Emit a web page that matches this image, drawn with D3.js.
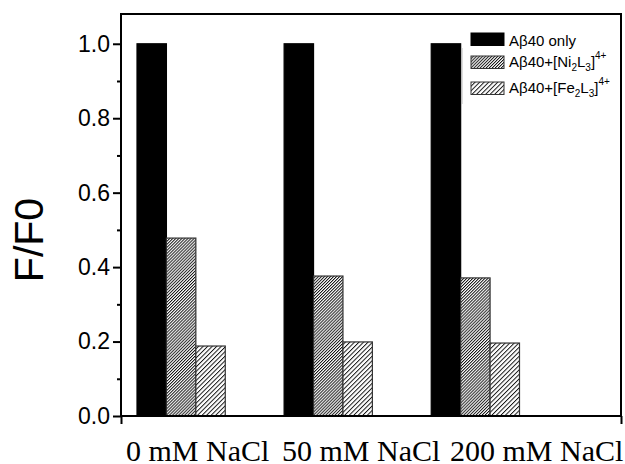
<!DOCTYPE html>
<html>
<head>
<meta charset="utf-8">
<script src="https://cdn.jsdelivr.net/npm/d3@7"></script>
<style>
  body { margin: 0; background: #fff; }
</style>
</head>
<body>
<svg id="chart" width="625" height="464"></svg>
<script>
const categories = ["0 mM NaCl", "50 mM NaCl", "200 mM NaCl"];
const seriesKeys = ["only", "ni", "fe"];
const onlyValues = [1.0, 1.0, 1.0];
const niValues = [0.478, 0.376, 0.371];
const feValues = [0.188, 0.199, 0.196];
const yTicks = [0, 0.2, 0.4, 0.6, 0.8, 1.0];
const yMinorTicks = [0.1, 0.3, 0.5, 0.7, 0.9];

const svg = d3.select("#chart");
const frame = { left: 121, right: 621, top: 14, bottom: 416 };

const yScale = d3.scaleLinear().domain([0, 1.08]).range([frame.bottom, frame.top]);
const xFrame = d3.scaleLinear().domain([0, 1]).range([frame.left, frame.right]);

// groups of three bars
const x0 = d3.scaleBand().domain(categories).range([137, 519.5]).paddingInner(0.4).paddingOuter(0);
const x1 = d3.scaleBand().domain(seriesKeys).range([0, x0.bandwidth()]);

const defs = svg.append("defs");
function hatch(id, w) {
  const p = defs.append("pattern")
    .attr("id", id)
    .attr("patternUnits", "userSpaceOnUse")
    .attr("width", w).attr("height", 10)
    .attr("patternTransform", "rotate(45)");
  p.append("rect").attr("width", w).attr("height", 10).attr("fill", "#fff");
  p.append("line").attr("x1", 0.5).attr("x2", 0.5).attr("y1", 0).attr("y2", 10)
    .attr("stroke", "#000").attr("stroke-width", 0.9);
}
hatch("hatchNi", 2.15);
hatch("hatchFe", 3.2);

const fills = { only: "#000", ni: "url(#hatchNi)", fe: "url(#hatchFe)" };

const rows = categories.map((c, i) => ({
  cat: c,
  bars: [
    { key: "only", v: onlyValues[i] },
    { key: "ni", v: niValues[i] },
    { key: "fe", v: feValues[i] }
  ]
}));

const groups = svg.append("g").selectAll("g")
  .data(rows).enter().append("g")
  .attr("transform", d => `translate(${x0(d.cat)},0)`);

groups.selectAll("rect")
  .data(d => d.bars).enter().append("rect")
  .attr("x", d => x1(d.key))
  .attr("y", d => yScale(d.v))
  .attr("width", x1.bandwidth())
  .attr("height", d => yScale(0) - yScale(d.v))
  .attr("fill", d => fills[d.key])
  .attr("stroke", d => d.key === "only" ? "#000" : "#333")
  .attr("stroke-width", 1.2);

// frame
const axisFont = "Arial, 'Liberation Sans', sans-serif";

const yAxis = svg.append("g")
  .attr("transform", `translate(${frame.left},0)`)
  .call(d3.axisLeft(yScale).tickValues(yTicks).tickSize(8).tickPadding(3).tickFormat(d3.format(".1f")));
yAxis.select(".domain").remove();
yAxis.selectAll("line").attr("stroke-width", 2);
yAxis.selectAll("text").attr("font-family", axisFont).attr("font-size", 23).attr("fill", "#000");

const yMinor = svg.append("g")
  .attr("transform", `translate(${frame.left},0)`)
  .call(d3.axisLeft(yScale).tickValues(yMinorTicks).tickSize(4).tickFormat(""));
yMinor.select(".domain").remove();
yMinor.selectAll("line").attr("stroke-width", 2);

const xAxis = svg.append("g")
  .attr("transform", `translate(0,${frame.bottom})`)
  .call(d3.axisBottom(xFrame).tickValues([0, 1]).tickSize(8).tickFormat(""));
xAxis.select(".domain").remove();
xAxis.selectAll("line").attr("stroke-width", 2);

svg.append("rect")
  .attr("x", frame.left).attr("y", frame.top)
  .attr("width", frame.right - frame.left)
  .attr("height", frame.bottom - frame.top)
  .attr("fill", "none").attr("stroke", "#000").attr("stroke-width", 2);

// category labels
const labelX = [126, 282, 450];
svg.append("g").selectAll("text")
  .data(categories).enter().append("text")
  .attr("x", (d, i) => labelX[i])
  .attr("y", 461)
  .attr("font-family", "'Liberation Serif', 'Times New Roman', serif")
  .attr("font-size", 30)
  .text(d => d);

// y title
svg.append("text")
  .attr("transform", "translate(43,240) rotate(-90)")
  .attr("text-anchor", "middle")
  .attr("font-family", axisFont)
  .attr("font-size", 41)
  .text("F/F0");

// legend
const legend = svg.append("g").attr("font-family", axisFont).attr("font-size", 15);
svg.append("line").attr("x1", 462).attr("x2", 462).attr("y1", 48).attr("y2", 104)
  .attr("stroke", "#bbb").attr("stroke-width", 1);

const legendY = [33, 56, 82];
seriesKeys.forEach((k, i) => {
  legend.append("rect")
    .attr("x", 471).attr("y", legendY[i])
    .attr("width", 33).attr("height", 12.5)
    .attr("fill", fills[k])
    .attr("stroke", k === "only" ? "#000" : "#333").attr("stroke-width", 1);
});

legend.append("text").attr("x", 509).attr("y", 46).text("A\u03B240 only");

function complexLabel(y, metal) {
  const t = legend.append("text").attr("x", 509).attr("y", y);
  t.append("tspan").text("A\u03B240+[" + metal);
  t.append("tspan").attr("font-size", 10).attr("dy", 4).text("2");
  t.append("tspan").attr("dy", -4).text("L");
  t.append("tspan").attr("font-size", 10).attr("dy", 4).text("3");
  t.append("tspan").attr("dy", -4).text("]");
  t.append("tspan").attr("font-size", 10).attr("dy", -8).text("4+");
}
complexLabel(67, "Ni");
complexLabel(93, "Fe");
</script>
</body>
</html>
